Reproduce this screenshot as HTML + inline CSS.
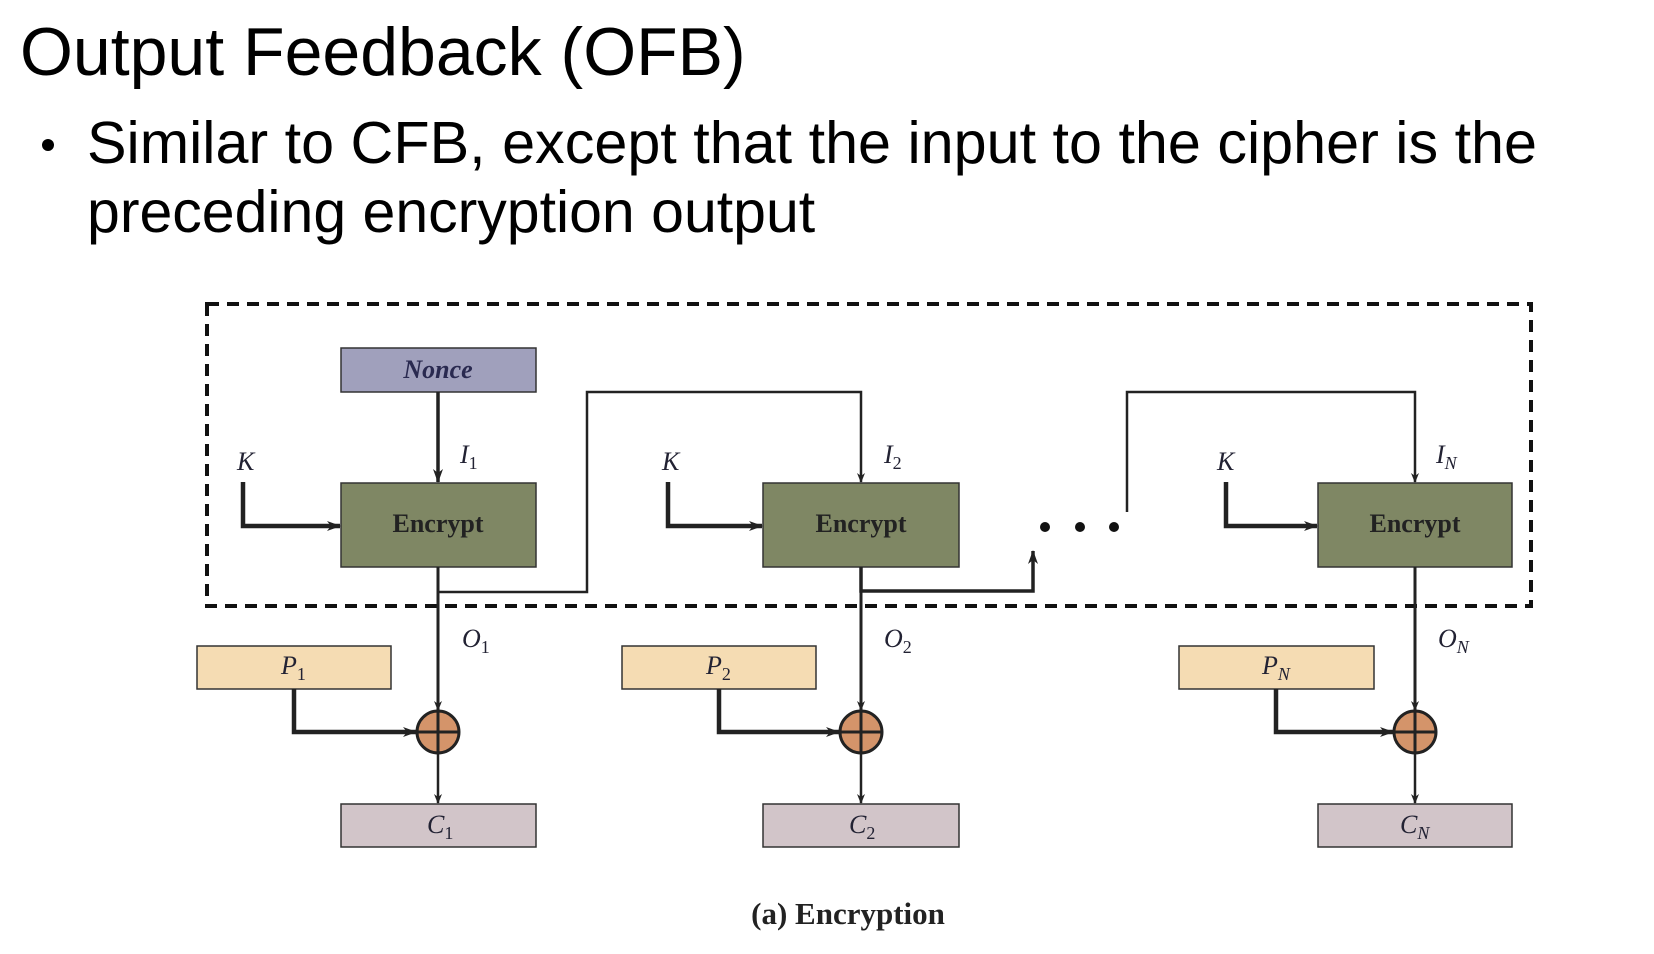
<!DOCTYPE html>
<html><head><meta charset="utf-8"><style>
html,body{margin:0;padding:0;background:#fff;width:1654px;height:954px;overflow:hidden}
</style></head><body>
<svg width="1654" height="954" viewBox="0 0 1654 954" xmlns="http://www.w3.org/2000/svg">
<defs>
<marker id="a" markerWidth="10" markerHeight="10" refX="9" refY="5" orient="auto" markerUnits="userSpaceOnUse"><path d="M0,1 L10,5 L0,9 L3,5 Z" fill="#222"/></marker>
<marker id="b" markerWidth="14" markerHeight="12" refX="13" refY="6" orient="auto" markerUnits="userSpaceOnUse"><path d="M0,1 L14,6 L0,11 L4,6 Z" fill="#222"/></marker>
</defs>
<text x="20" y="75" font-family="Liberation Sans, sans-serif" font-size="68" fill="#000">Output Feedback (OFB)</text>
<circle cx="48" cy="145" r="6" fill="#000"/>
<text x="87" y="163" font-family="Liberation Sans, sans-serif" font-size="59" fill="#000" textLength="1450" lengthAdjust="spacingAndGlyphs">Similar to CFB, except that the input to the cipher is the</text>
<text x="87" y="232" font-family="Liberation Sans, sans-serif" font-size="59" fill="#000">preceding encryption output</text>

<rect x="207" y="304" width="1324" height="302" fill="none" stroke="#111" stroke-width="4" stroke-dasharray="12,8"/>

<g font-family="Liberation Serif, serif" font-weight="bold" font-size="26" fill="#222" text-anchor="middle">
<rect x="341" y="348" width="195" height="44" fill="#a0a0bc" stroke="#333" stroke-width="1.5"/>
<text x="438" y="378" font-style="italic" fill="#2a2a50">Nonce</text>
<rect x="341" y="483" width="195" height="84" fill="#7f8764" stroke="#333" stroke-width="1.5"/>
<text x="438" y="532">Encrypt</text>
<rect x="763" y="483" width="196" height="84" fill="#7f8764" stroke="#333" stroke-width="1.5"/>
<text x="861" y="532">Encrypt</text>
<rect x="1318" y="483" width="194" height="84" fill="#7f8764" stroke="#333" stroke-width="1.5"/>
<text x="1415" y="532">Encrypt</text>

<rect x="197" y="646" width="194" height="43" fill="#f5dcb3" stroke="#333" stroke-width="1.5"/>
<rect x="622" y="646" width="194" height="43" fill="#f5dcb3" stroke="#333" stroke-width="1.5"/>
<rect x="1179" y="646" width="195" height="43" fill="#f5dcb3" stroke="#333" stroke-width="1.5"/>
<rect x="341" y="804" width="195" height="43" fill="#d2c5c9" stroke="#333" stroke-width="1.5"/>
<rect x="763" y="804" width="196" height="43" fill="#d2c5c9" stroke="#333" stroke-width="1.5"/>
<rect x="1318" y="804" width="194" height="43" fill="#d2c5c9" stroke="#333" stroke-width="1.5"/>
</g>
<g font-family="Liberation Serif, serif" font-style="italic" font-size="26" fill="#223">
<text x="237" y="470">K</text><text x="662" y="470">K</text><text x="1217" y="470">K</text>
<text x="460" y="463">I<tspan font-size="18" dy="6" font-style="normal">1</tspan></text>
<text x="884" y="463">I<tspan font-size="18" dy="6" font-style="normal">2</tspan></text>
<text x="1436" y="463">I<tspan font-size="18" dy="6" font-style="italic">N</tspan></text>
<text x="462" y="647">O<tspan font-size="18" dy="6" font-style="normal">1</tspan></text>
<text x="884" y="647">O<tspan font-size="18" dy="6" font-style="normal">2</tspan></text>
<text x="1438" y="647">O<tspan font-size="18" dy="6">N</tspan></text>
<text x="281" y="674">P<tspan font-size="18" dy="6" font-style="normal">1</tspan></text>
<text x="706" y="674">P<tspan font-size="18" dy="6" font-style="normal">2</tspan></text>
<text x="1262" y="674">P<tspan font-size="18" dy="6">N</tspan></text>
<text x="427" y="833">C<tspan font-size="18" dy="6" font-style="normal">1</tspan></text>
<text x="849" y="833">C<tspan font-size="18" dy="6" font-style="normal">2</tspan></text>
<text x="1400" y="833">C<tspan font-size="18" dy="6">N</tspan></text>
</g>

<g stroke="#222" fill="none">
<path d="M243 482 V526 H340" stroke-width="4.5" marker-end="url(#b)"/>
<path d="M668 482 V526 H762" stroke-width="4.5" marker-end="url(#b)"/>
<path d="M1226 482 V526 H1317" stroke-width="4.5" marker-end="url(#b)"/>
<path d="M438 392 V482" stroke-width="3.5" marker-end="url(#b)"/>
<path d="M438 567 V592 H587 V392 H861 V482" stroke-width="2.5" marker-end="url(#a)"/>
<path d="M861 567 V591 H1033 V551" stroke-width="3.5" marker-end="url(#b)"/>
<path d="M1127 512 V392 H1415 V482" stroke-width="2.5" marker-end="url(#a)"/>
<path d="M438 567 V710" stroke-width="3" marker-end="url(#a)"/>
<path d="M861 567 V710" stroke-width="3" marker-end="url(#a)"/>
<path d="M1415 567 V710" stroke-width="3" marker-end="url(#a)"/>
<path d="M438 754 V803" stroke-width="2.5" marker-end="url(#a)"/>
<path d="M861 754 V803" stroke-width="2.5" marker-end="url(#a)"/>
<path d="M1415 754 V803" stroke-width="2.5" marker-end="url(#a)"/>
<path d="M294 689 V732 H416" stroke-width="4.5" marker-end="url(#b)"/>
<path d="M719 689 V732 H839" stroke-width="4.5" marker-end="url(#b)"/>
<path d="M1276 689 V732 H1393" stroke-width="4.5" marker-end="url(#b)"/>
</g>
<g stroke="#222" stroke-width="3">
<circle cx="438" cy="732" r="21" fill="#d4946a"/><path d="M417 732 H459 M438 711 V753"/>
<circle cx="861" cy="732" r="21" fill="#d4946a"/><path d="M840 732 H882 M861 711 V753"/>
<circle cx="1415" cy="732" r="21" fill="#d4946a"/><path d="M1394 732 H1436 M1415 711 V753"/>
</g>
<g fill="#111"><circle cx="1045" cy="527" r="5"/><circle cx="1080" cy="527" r="5"/><circle cx="1114" cy="527" r="5"/></g>
<text x="848" y="924" text-anchor="middle" font-family="Liberation Serif, serif" font-weight="bold" font-size="31" fill="#222">(a) Encryption</text>
</svg>
</body></html>
